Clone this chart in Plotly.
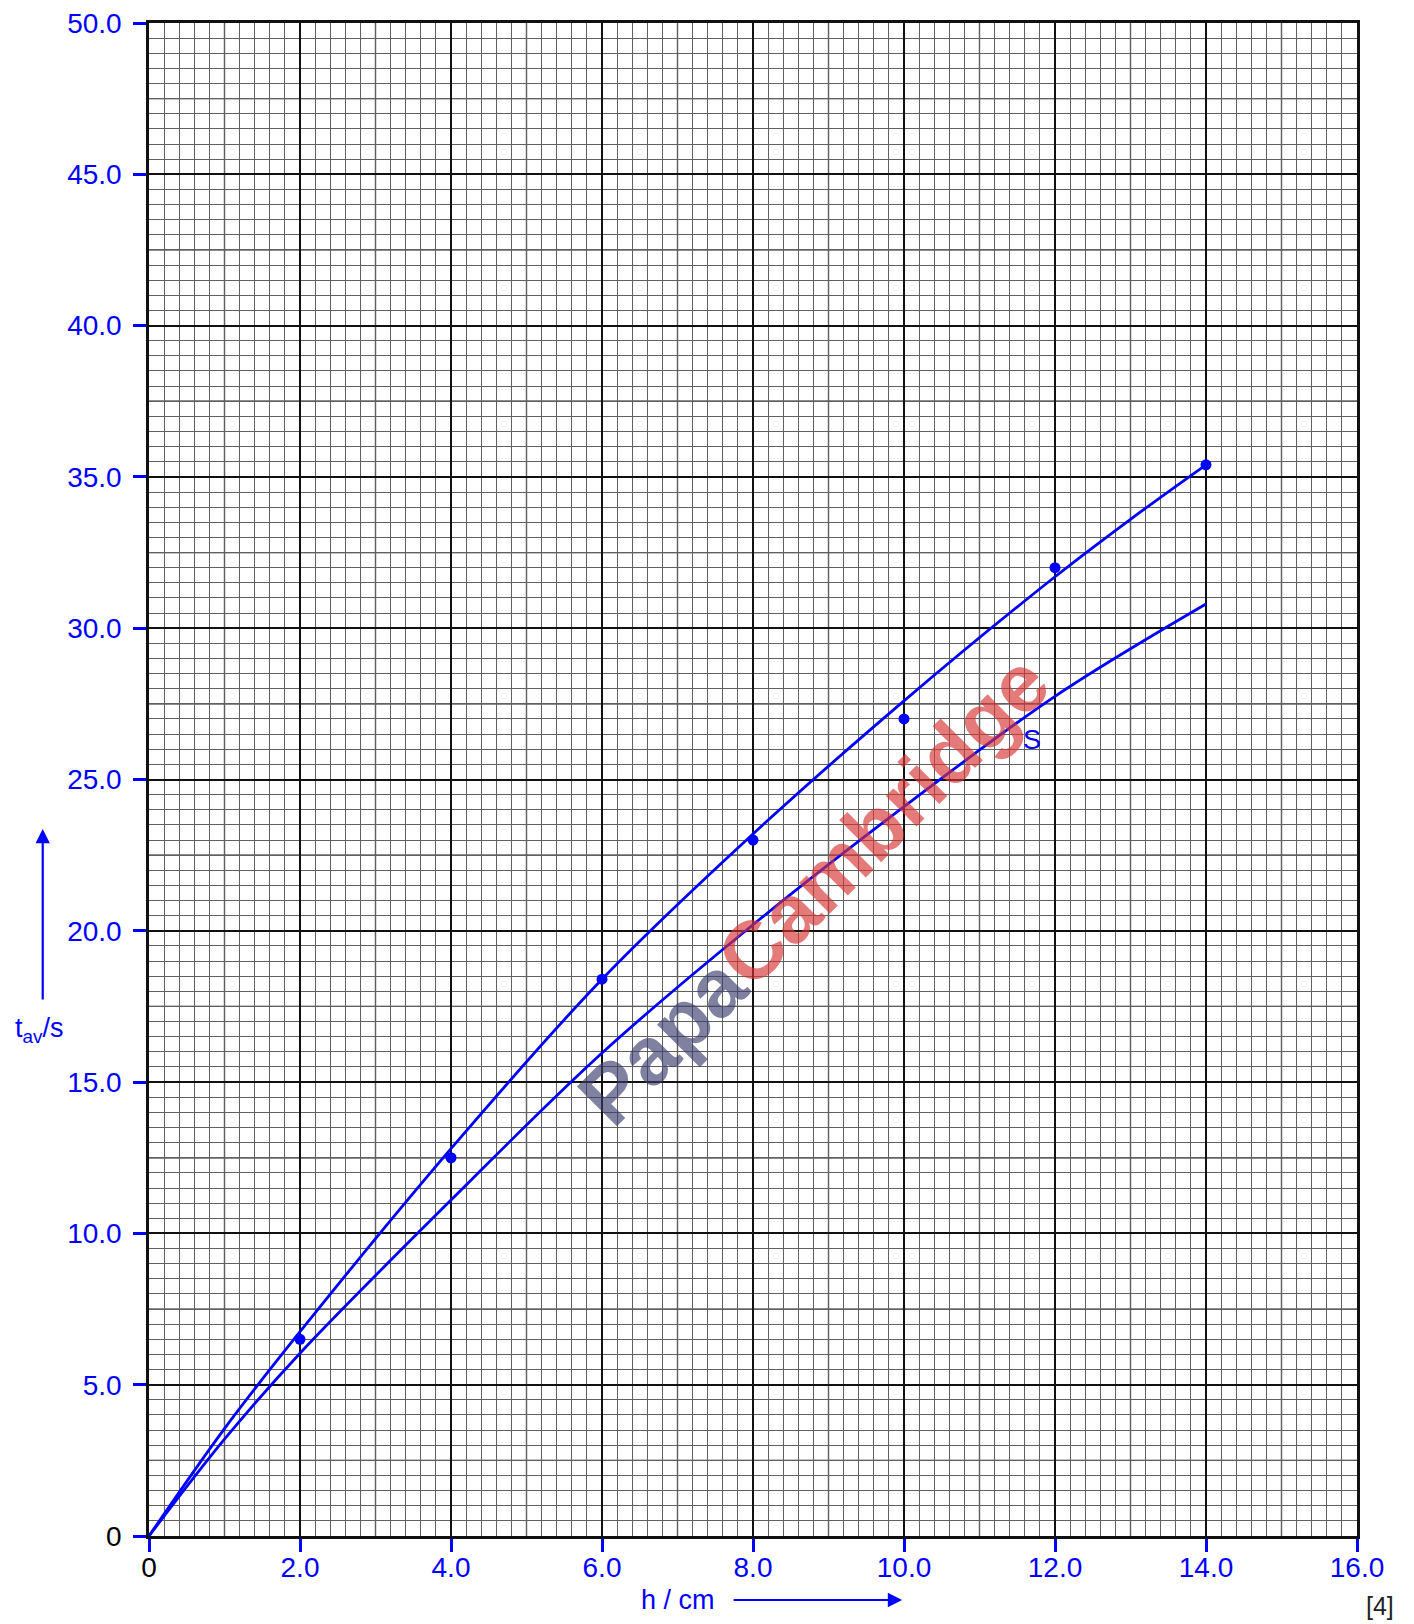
import numpy as np
import plotly.graph_objects as go

# ---- data ----
h_points = [2.0, 4.0, 6.0, 8.0, 10.0, 12.0, 14.0]
t_points = [6.5, 12.5, 18.4, 23.0, 27.0, 32.0, 35.4]

upper_x = [0, 1, 2, 4, 6, 8, 10, 12, 13, 14]
upper_y = [0, 3.55, 6.75, 12.8, 18.4, 23.2, 27.6, 31.7, 33.6, 35.4]

lower_x = [0, 1, 2, 4, 6, 8, 10, 12, 14]
lower_y = [0, 3.2, 6.04, 11.1, 15.96, 20.2, 24.1, 27.75, 30.8]

x_tickvals = [0, 2, 4, 6, 8, 10, 12, 14, 16]
x_ticktext = ["<span style='color:black'>0</span>", "2.0", "4.0", "6.0", "8.0",
              "10.0", "12.0", "14.0", "16.0"]
y_tickvals = [0, 5, 10, 15, 20, 25, 30, 35, 40, 45, 50]
y_ticktext = ["<span style='color:black'>0</span>", "5.0", "10.0", "15.0", "20.0",
              "25.0", "30.0", "35.0", "40.0", "45.0", "50.0"]

BLUE = "#0000ff"
FONT = "Liberation Sans, Arial, sans-serif"

# plot-area geometry (page pixels) used to place paper-referenced notes
PL, PW, PT, PB = 148.7, 1208.3, 23.0, 1536.0
PH = PB - PT


def px(xp):
    return (xp - PL) / PW


def py(yp):
    return (PB - yp) / PH


fig = go.Figure()

fig.add_trace(go.Scatter(x=upper_x, y=upper_y, mode="lines",
                         line=dict(color=BLUE, width=2.8, shape="spline", smoothing=1.0),
                         hoverinfo="skip", showlegend=False))
fig.add_trace(go.Scatter(x=lower_x, y=lower_y, mode="lines",
                         line=dict(color=BLUE, width=2.8, shape="spline", smoothing=1.0),
                         hoverinfo="skip", showlegend=False))
fig.add_trace(go.Scatter(x=h_points, y=t_points, mode="markers",
                         marker=dict(color=BLUE, size=11),
                         showlegend=False))

# medium grid lines (every 1.0 in x, every 2.5 in y)
shapes = []
for v in np.arange(1, 16, 2):
    shapes.append(dict(type="line", xref="x", yref="paper", x0=v, x1=v, y0=0, y1=1,
                       line=dict(color="#1a1a1a", width=1.3), layer="between"))
for v in np.arange(2.5, 50, 5):
    shapes.append(dict(type="line", xref="paper", yref="y", x0=0, x1=1, y0=v, y1=v,
                       line=dict(color="#1a1a1a", width=1.3), layer="between"))

annotations = [
    # curve label
    dict(x=11.7, y=26.3, xref="x", yref="y", text="S", showarrow=False,
         xanchor="center", yanchor="middle",
         font=dict(color=BLUE, size=27, family=FONT)),
    # x-axis title and arrow
    dict(x=px(678), y=py(1600), xref="paper", yref="paper",
         text="h / cm", showarrow=False, xanchor="center", yanchor="middle",
         font=dict(color=BLUE, size=27, family=FONT)),
    dict(x=px(902), y=py(1600), xref="paper", yref="paper",
         ax=-170, ay=0, text="", showarrow=True, arrowhead=2, arrowsize=1.3,
         arrowwidth=2.2, arrowcolor=BLUE),
    # y-axis title and arrow
    dict(x=px(39), y=py(1030), xref="paper", yref="paper",
         text="t<sub>av</sub>/s", showarrow=False, xanchor="center", yanchor="middle",
         font=dict(color=BLUE, size=27, family=FONT)),
    dict(x=px(42.4), y=py(829), xref="paper", yref="paper",
         ax=0, ay=172, text="", showarrow=True, arrowhead=2, arrowsize=1.3,
         arrowwidth=2.2, arrowcolor=BLUE),
    # marks
    dict(x=px(1380), y=py(1606), xref="paper", yref="paper",
         text="[4]", showarrow=False, xanchor="center", yanchor="middle",
         font=dict(color="#222222", size=25, family=FONT)),
    # watermark
    dict(x=px(813), y=py(889), xref="paper", yref="paper",
         text="<b><span style='color:rgba(60,60,110,0.65)'>Papa</span>"
              "<span style='color:rgba(215,50,50,0.65)'>Cambridge</span></b>",
         showarrow=False, textangle=-45, xanchor="center", yanchor="middle",
         font=dict(size=82, family=FONT)),
]

axis_common = dict(
    showline=True, linecolor="#111111", linewidth=2.5, mirror=True,
    showgrid=True, gridcolor="#111111", gridwidth=1.6,
    ticks="outside", ticklen=13, tickwidth=2.5, tickcolor=BLUE,
    tickfont=dict(color=BLUE, size=28, family=FONT),
    ticklabeloverflow="allow", automargin=False,
    zeroline=False, fixedrange=True,
)

# the page body adds an 8px offset, so margins are reduced accordingly
fig.update_layout(
    width=1414, height=1624,
    margin=dict(l=141, r=65, t=15, b=96),
    plot_bgcolor="white", paper_bgcolor="white",
    xaxis=dict(range=[0, 16], tickmode="array", tickvals=x_tickvals, ticktext=x_ticktext,
               minor=dict(dtick=0.2, tick0=0, showgrid=True, gridcolor="#606060", gridwidth=1.1,
                          ticks=""),
               ticklabelstandoff=-8,
               **axis_common),
    yaxis=dict(range=[0, 50], tickmode="array", tickvals=y_tickvals, ticktext=y_ticktext,
               minor=dict(dtick=0.5, tick0=0, showgrid=True, gridcolor="#606060", gridwidth=1.1,
                          ticks=""),
               ticklabelstandoff=6,
               **axis_common),
    shapes=shapes,
    annotations=annotations,
)

fig.write_html("out.html")
